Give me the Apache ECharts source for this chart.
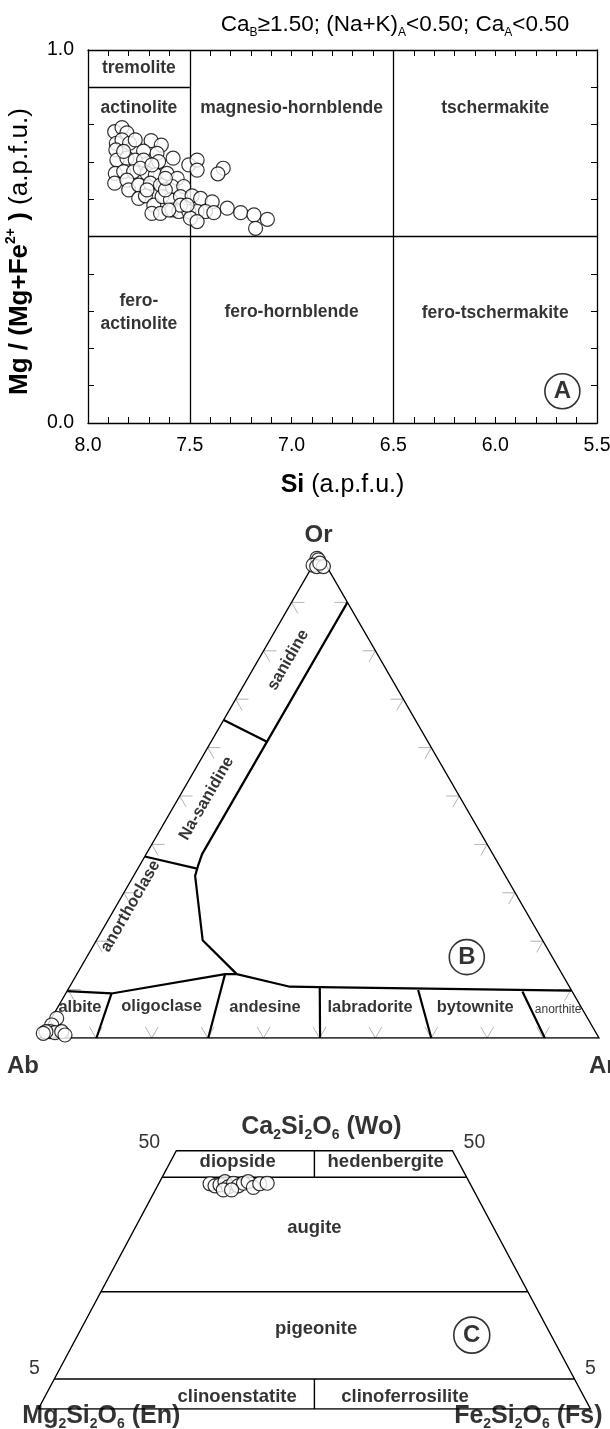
<!DOCTYPE html>
<html><head><meta charset="utf-8">
<script src="https://cdn.jsdelivr.net/npm/echarts@6/dist/echarts.min.js"></script>
<style>html,body{margin:0;padding:0;background:#fff}#c{width:610px;height:1429px}</style>
</head><body><div id="c"></div>
<script>
// ================= DATA =================
// Panel A: amphibole Si (a.p.f.u.) vs Mg/(Mg+Fe2+)
const amphSi = [7.869,7.833,7.809,7.861,7.833,7.796,7.768,7.690,7.640,7.727,7.863,7.858,7.809,7.768,7.727,7.661,7.653,7.582,7.505,7.464,7.464,7.336,7.362,7.866,7.825,7.776,7.710,7.669,7.612,7.562,7.869,7.809,7.800,7.751,7.694,7.644,7.587,7.530,7.751,7.718,7.677,7.636,7.595,7.546,7.489,7.447,7.390,7.686,7.644,7.587,7.554,7.505,7.464,7.423,7.382,7.497,7.464,7.316,7.250,7.185,7.119,7.177,7.743,7.710,7.620,7.546,7.603,7.513,7.825,7.686,7.620];
const amphMgNo = [0.781,0.792,0.778,0.750,0.759,0.750,0.759,0.757,0.745,0.729,0.732,0.705,0.710,0.705,0.705,0.723,0.701,0.710,0.692,0.705,0.678,0.683,0.668,0.669,0.674,0.674,0.669,0.665,0.669,0.656,0.643,0.651,0.625,0.638,0.643,0.638,0.634,0.634,0.602,0.609,0.584,0.607,0.598,0.607,0.609,0.602,0.593,0.562,0.562,0.571,0.567,0.567,0.567,0.567,0.564,0.549,0.540,0.576,0.564,0.558,0.546,0.522,0.683,0.625,0.625,0.584,0.571,0.584,0.728,0.692,0.656];
const amphSiBounds = [7.5, 6.5];
const amphMgBounds = [0.5, 0.9];
const amphFieldNames = ['tremolite','actinolite','magnesio-hornblende','tschermakite','fero-\nactinolite','fero-hornblende','fero-tschermakite'];
const amphFieldSi = [7.75, 7.75, 7.0, 6.0, 7.75, 7.0, 6.0];
const amphFieldMg = [0.95, 0.845, 0.845, 0.845, 0.295, 0.298, 0.295];

// Panel B: feldspar ternary, mol% An and Or (Ab = 100 - An - Or)
const fspAn = [0.95,0.75,1.14,2.13,3.23,4.16,0.42,0.10, 0.0,0.4,0.0,0.8,2.0,1.0];
const fspOr = [4.07,2.69,1.30,1.10,1.30,0.62,1.30,0.97, 99.1,98.8,97.7,97.4,97.4,98.1];
const fspTicks = [10,20,30,40,50,60,70,80,90];
const fspBoundaries = [
  [[10,90],[10,38],[10.5,35.5],[11,33.5],[19,20.2],[28.6,13.2]],
  [[0,65.7],[10,61.2]],
  [[0,37.5],[10.6,35]],
  [[0,9.7],[8.2,9.2],[26.5,13.2],[28.6,13.2],[39.4,10.6],[44.8,10.5],[90.2,9.8]],
  [[10.1,0],[8.2,9.2]],
  [[30.1,0],[26.5,13.2]],
  [[50.1,0],[44.8,10.5]],
  [[70,0],[62.7,9.9]],
  [[90.3,0],[81.5,9.6]]
];
const fspFieldNames = ['sanidine','Na-sanidine','anorthoclase','albite','oligoclase','andesine','labradorite','bytownite','anorthite'];
const fspFieldAn = [5.35, 5.05, 2.6, 4.0, 18.5, 37.1, 55.9, 74.7, 89.8];
const fspFieldOr = [78.1, 49.5, 27.2, 6.3, 6.5, 6.3, 6.3, 6.3, 5.8];

// Panel C: pyroxene Wo and Fs (mol%), En = 100 - Wo - Fs
const pxWo = [43.6,43.2,43.4,44.0,43.0,43.7,43.2,43.7,44.0,42.9,43.6,43.7,42.4,42.4];
const pxFs = [9.3,10.4,11.2,11.8,12.9,13.5,14.6,15.3,16.0,17.5,18.3,19.6,12.3,13.8];
const pxWoBounds = [44.85, 22.7, 5.8];
const pxFieldNames = ['diopside','hedenbergite','augite','pigeonite','clinoenstatite','clinoferrosilite'];
const pxFieldX = [36.1, 62.9, 50.0, 50.3, 36.0, 66.4];
const pxFieldWo = [47.9, 47.9, 35.0, 15.6, 2.4, 2.4];

// ================= CHART =================
const FF = "'Liberation Sans', Arial, Helvetica, sans-serif";
const INK = '#000';
const S3 = Math.sqrt(3) / 2;
const tern = (an, or) => [an + or / 2, or * S3];
const pyx = (wo, fs) => [fs + wo / 2, wo];

const chart = echarts.init(document.getElementById('c'), null, {renderer: 'canvas', width: 610, height: 1429});

function labelSeries(xi, yi, items, lab) {
  return {
    type: 'scatter', xAxisIndex: xi, yAxisIndex: yi, symbolSize: 1, silent: true, z: 6,
    itemStyle: {color: 'rgba(0,0,0,0)'},
    label: Object.assign({show: true, position: 'inside', color: INK, fontFamily: FF,
      formatter: p => p.data.name}, lab),
    data: items
  };
}
function badge(xi, yi, pos, txt, size) {
  return {
    type: 'scatter', xAxisIndex: xi, yAxisIndex: yi, silent: true, z: 7,
    symbol: 'circle', symbolSize: size,
    itemStyle: {color: '#fff', borderColor: INK, borderWidth: 1.6},
    label: {show: true, position: 'inside', formatter: txt, color: INK, fontFamily: FF, fontWeight: 'bold', fontSize: 24},
    data: [pos]
  };
}
const markerStyle = {color: '#fff', borderColor: INK, borderWidth: 1.2};
const MS = 14;

const xFmt = v => { const r = Math.round(v * 10); return r % 5 === 0 ? (r / 10).toFixed(1) : ''; };
const yFmt = v => { const r = Math.round(v * 10); return (r === 0 || r === 10) ? (r / 10).toFixed(1) : ''; };
const axLine = {show: true, onZero: false, lineStyle: {color: INK, width: 1.3}};
const axTick = {show: true, inside: true, length: 6, lineStyle: {color: INK, width: 1}};

const series = [];

// ---- Panel A
series.push({
  type: 'lines', coordinateSystem: 'cartesian2d', xAxisIndex: 0, yAxisIndex: 0, silent: true, z: 3,
  lineStyle: {color: INK, width: 1.3, opacity: 1},
  data: [
    {coords: [[amphSiBounds[0], 0], [amphSiBounds[0], 1]]},
    {coords: [[amphSiBounds[1], 0], [amphSiBounds[1], 1]]},
    {coords: [[8, amphMgBounds[0]], [5.5, amphMgBounds[0]]]},
    {coords: [[8, amphMgBounds[1]], [amphSiBounds[0], amphMgBounds[1]]]}
  ]
});
series.push(labelSeries(0, 0, amphFieldNames.map((n, i) => ({name: n, value: [amphFieldSi[i], amphFieldMg[i]]})),
  {fontSize: 17.5, fontWeight: 'bold', lineHeight: 23}));
series.push(badge(0, 0, [5.67, 0.085], 'A', 35));
series.push({
  type: 'scatter', xAxisIndex: 0, yAxisIndex: 0, silent: true, z: 5, symbol: 'circle', symbolSize: MS,
  itemStyle: markerStyle, data: amphSi.map((s, i) => [s, amphMgNo[i]])
});

// ---- Panel B
series.push({
  type: 'lines', coordinateSystem: 'cartesian2d', xAxisIndex: 2, yAxisIndex: 2, polyline: true, silent: true, z: 2,
  lineStyle: {color: '#b3b3b3', width: 1, opacity: 1},
  data: fspTicks.flatMap(k => {
    const L = 2.3;
    return [
      {coords: [tern(L, k), tern(0, k), tern(L, k - L)]},
      {coords: [tern(100 - k - L, k), tern(100 - k, k), tern(100 - k, k - L)]},
      {coords: [tern(k - L, L), tern(k, 0), tern(k, L)]}
    ];
  })
});
series.push({
  type: 'lines', coordinateSystem: 'cartesian2d', xAxisIndex: 2, yAxisIndex: 2, polyline: true, silent: true, z: 3,
  lineStyle: {color: INK, width: 1.4, opacity: 1},
  data: [{coords: [tern(0, 0), tern(100, 0), tern(0, 100), tern(0, 0)]}]
});
series.push({
  type: 'lines', coordinateSystem: 'cartesian2d', xAxisIndex: 2, yAxisIndex: 2, polyline: true, silent: true, z: 3,
  lineStyle: {color: INK, width: 2.2, opacity: 1},
  data: fspBoundaries.map(b => ({coords: b.map(p => tern(p[0], p[1]))}))
});
series.push(labelSeries(2, 2, fspFieldNames.map((n, i) => {
  const it = {name: n, value: tern(fspFieldAn[i], fspFieldOr[i])};
  if (i < 3) it.label = {rotate: 60};
  if (n === 'anorthite') it.label = {fontSize: 12, fontWeight: 'normal', fontFamily: "'Liberation Sans Narrow', 'Liberation Sans', Arial, sans-serif"};
  return it;
}), {fontSize: 16.5, fontWeight: 'bold'}));
series.push(labelSeries(2, 2, [
  {name: 'Or', value: tern(0, 100), label: {offset: [-1, -19]}},
  {name: 'Ab', value: tern(0, 0), label: {offset: [-17, 28]}},
  {name: 'An', value: tern(100, 0), label: {offset: [6, 28]}}
], {fontSize: 24, fontWeight: 'bold'}));
series.push(badge(2, 2, tern(68.0, 16.7), 'B', 35));
series.push({
  type: 'scatter', xAxisIndex: 2, yAxisIndex: 2, silent: true, z: 5, symbol: 'circle', symbolSize: MS,
  itemStyle: markerStyle, data: fspAn.map((a, i) => tern(a, fspOr[i]))
});

// ---- Panel C
const pxLines = [{coords: [pyx(0, 0), pyx(0, 100), pyx(50, 50), pyx(50, 0), pyx(0, 0)]}];
pxWoBounds.forEach(w => pxLines.push({coords: [pyx(w, 0), pyx(w, 100 - w)]}));
pxLines.push({coords: [pyx(pxWoBounds[0], 50 - pxWoBounds[0] / 2), pyx(50, 25)]});
pxLines.push({coords: [pyx(0, 50), pyx(pxWoBounds[2], 50 - pxWoBounds[2] / 2)]});
series.push({
  type: 'lines', coordinateSystem: 'cartesian2d', xAxisIndex: 3, yAxisIndex: 3, polyline: true, silent: true, z: 3,
  lineStyle: {color: INK, width: 1.4, opacity: 1}, data: pxLines
});
series.push(labelSeries(3, 3, pxFieldNames.map((n, i) => ({name: n, value: [pxFieldX[i], pxFieldWo[i]]})),
  {fontSize: 18.5, fontWeight: 'bold'}));
const subRich = {
  b: {fontFamily: FF, fontSize: 25, fontWeight: 'bold', color: INK, lineHeight: 30},
  s: {fontFamily: FF, fontSize: 14, fontWeight: 'bold', color: INK, lineHeight: 14, verticalAlign: 'bottom'}
};
series.push(labelSeries(3, 3, [
  {name: '{b|Ca}{s|2}{b|Si}{s|2}{b|O}{s|6}{b| (Wo)}', value: pyx(50, 25), label: {offset: [7, -24]}},
  {name: '{b|Mg}{s|2}{b|Si}{s|2}{b|O}{s|6}{b| (En)}', value: pyx(0, 0), label: {align: 'left', offset: [-16, 7]}},
  {name: '{b|Fe}{s|2}{b|Si}{s|2}{b|O}{s|6}{b| (Fs)}', value: pyx(0, 100), label: {align: 'right', offset: [12, 7]}}
], {rich: subRich}));
series.push(labelSeries(3, 3, [
  {name: '50', value: pyx(50, 0), label: {offset: [-27, -8]}},
  {name: '50', value: pyx(50, 50), label: {offset: [22, -8]}},
  {name: '5', value: pyx(pxWoBounds[2], 0), label: {offset: [-20, -10]}},
  {name: '5', value: pyx(pxWoBounds[2], 100 - pxWoBounds[2]), label: {offset: [16, -10]}}
], {fontSize: 19.5}));
series.push(badge(3, 3, [78.5, 14.3], 'C', 36));
series.push({
  type: 'scatter', xAxisIndex: 3, yAxisIndex: 3, silent: true, z: 5, symbol: 'circle', symbolSize: MS,
  itemStyle: markerStyle, data: pxWo.map((w, i) => pyx(w, pxFs[i]))
});

const option = {
  backgroundColor: '#fff',
  animation: false,
  title: [{
    text: 'Ca{s|B}≥1.50; (Na+K){s|A}<0.50; Ca{s|A}<0.50',
    left: 390, top: 6, textAlign: 'center',
    textStyle: {fontFamily: FF, fontSize: 22.5, fontWeight: 'normal', color: INK, lineHeight: 28,
      rich: {s: {fontFamily: FF, fontSize: 12, color: INK, lineHeight: 12, verticalAlign: 'bottom'}}}
  }],
  grid: [
    {left: 88, top: 50, width: 509, height: 373, outerBoundsMode: 'none'},
    {left: 40, top: 554, width: 559, height: 484, outerBoundsMode: 'none'},
    {left: 38.3, top: 1150.7, width: 552.2, height: 258.3, outerBoundsMode: 'none'}
  ],
  xAxis: [
    {gridIndex: 0, type: 'value', min: 5.5, max: 8, interval: 0.1, inverse: true, position: 'bottom',
      axisLine: axLine, axisTick: axTick, splitLine: {show: false},
      axisLabel: {formatter: xFmt, fontFamily: FF, fontSize: 19.5, color: INK, margin: 13},
      name: '{b|Si} (a.p.f.u.)', nameLocation: 'middle', nameGap: 50,
      nameTextStyle: {fontFamily: FF, fontSize: 25, color: INK,
        rich: {b: {fontFamily: FF, fontSize: 25, fontWeight: 'bold', color: INK}}}},
    {gridIndex: 0, type: 'value', min: 5.5, max: 8, interval: 0.1, inverse: true, position: 'top',
      axisLine: axLine, axisTick: axTick, splitLine: {show: false}, axisLabel: {show: false}},
    {gridIndex: 1, type: 'value', min: 0, max: 100, show: false},
    {gridIndex: 2, type: 'value', min: 0, max: 100, show: false}
  ],
  yAxis: [
    {gridIndex: 0, type: 'value', min: 0, max: 1, interval: 0.1, position: 'left',
      axisLine: axLine, axisTick: axTick, splitLine: {show: false},
      axisLabel: {formatter: yFmt, fontFamily: FF, fontSize: 19.5, color: INK, margin: 14},
      name: '{b|Mg / (Mg+Fe}{p|2+}{b| )} (a.p.f.u.)', nameLocation: 'middle', nameGap: 44, nameRotate: 90,
      nameTextStyle: {fontFamily: FF, fontSize: 26, color: INK, lineHeight: 32, padding: [0, 30, 0, 0],
        rich: {
          b: {fontFamily: FF, fontSize: 26, fontWeight: 'bold', color: INK, lineHeight: 32},
          p: {fontFamily: FF, fontSize: 14, fontWeight: 'bold', color: INK, lineHeight: 14, verticalAlign: 'top'}
        }}},
    {gridIndex: 0, type: 'value', min: 0, max: 1, interval: 0.1, position: 'right',
      axisLine: axLine, axisTick: axTick, splitLine: {show: false}, axisLabel: {show: false}},
    {gridIndex: 1, type: 'value', min: 0, max: 100 * S3, show: false},
    {gridIndex: 2, type: 'value', min: 0, max: 50, show: false}
  ],
  series: series
};
chart.setOption(option);
</script></body></html>
